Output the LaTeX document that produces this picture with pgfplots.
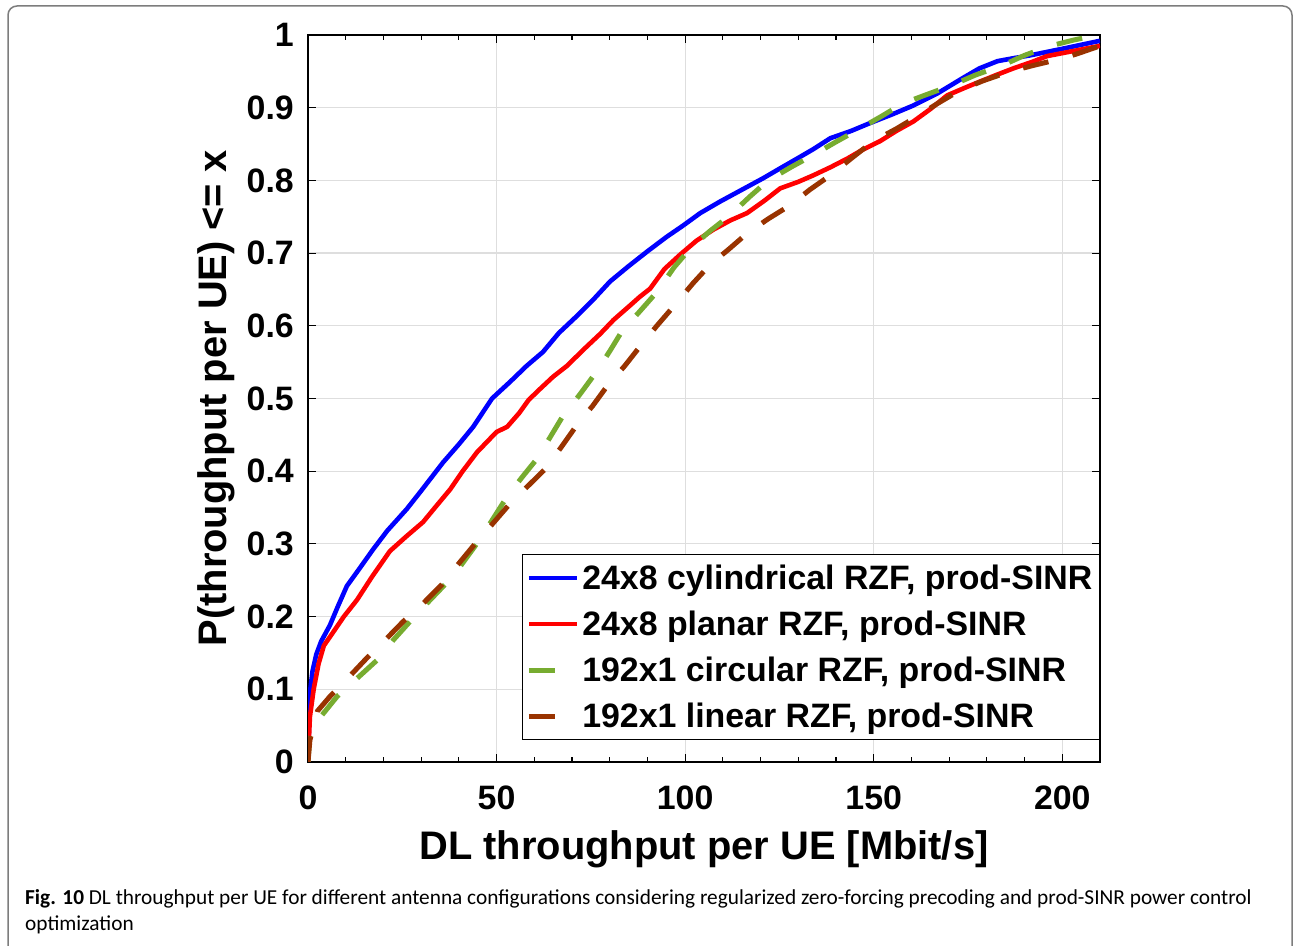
\documentclass[border=0pt]{standalone}
\usepackage{fontspec}
\setmainfont{Liberation Sans}
\newfontfamily\capfont{Carlito}
\usepackage{pgfplots}
\pgfplotsset{compat=1.18}
\definecolor{mgreen}{RGB}{119,172,48}
\definecolor{mbrown}{RGB}{153,51,0}
\definecolor{bordergray}{RGB}{125,125,125}
\definecolor{gridgray}{RGB}{222,222,222}

\begin{document}
\begin{tikzpicture}[x=1bp,y=1bp]
\useasboundingbox (0,0) rectangle (1294,946);
\begin{scope}
\clip (0,0) rectangle (1294,946);
\draw[bordergray, line width=1.5bp, rounded corners=9bp] (8,-30) rectangle (1292,940);
\end{scope}
\begin{axis}[
  at={(308bp,184bp)}, anchor=south west,
  scale only axis, width=792bp, height=727bp,
  xmin=0, xmax=210, ymin=0, ymax=1,
  xtick={0,50,100,150,200},
  minor x tick num=4,
  ytick={0,0.1,0.2,0.3,0.4,0.5,0.6,0.7,0.8,0.9,1},
  yticklabels={0,0.1,0.2,0.3,0.4,0.5,0.6,0.7,0.8,0.9,1},
  xmajorgrids, ymajorgrids,
  major grid style={gridgray, line width=1.2bp},
  axis line style={black, line width=1.3bp},
  every tick/.style={black, line width=1.1bp},
  major tick length=8bp, minor tick length=5bp,
  tick align=inside,
  /pgf/number format/assume math mode=true,
  tick label style={font=\fontsize{34}{40}\selectfont\bfseries},
  xticklabel style={inner sep=0pt, anchor=north, yshift=-24bp},
  yticklabel style={inner sep=0pt, anchor=east, xshift=-14bp},
  xlabel={DL throughput per UE [Mbit/s]},
  ylabel={P(throughput per UE) <= x},
  label style={font=\fontsize{40}{46}\selectfont\bfseries},
  xlabel style={at={(axis description cs:0.5,-0.1348)}, anchor=base, inner sep=0pt},
  ylabel style={at={(axis description cs:-0.1035,0.5)}, anchor=base, inner sep=0pt, rotate=0},
  legend style={at={(1,0.286)}, anchor=north east, draw=black, line width=1.2bp,
    font=\fontsize{34}{40}\selectfont\bfseries, fill=white,
    inner xsep=4bp, inner ysep=4bp, row sep=7bp,
    nodes={text height=28bp, text depth=5bp, inner sep=3bp}},
  legend cell align=left,
  legend image code/.code={\draw[#1] (0bp,0bp) -- (48bp,0bp);},
]
\addplot[blue, line width=4.6bp] coordinates {
(0,0) (0.2,0.04) (0.5,0.095) (1.2,0.125) (2.2,0.148) (3.5,0.166) (5.8,0.188) (8,0.215) (10.3,0.242)
(13.5,0.265) (17.2,0.292) (21,0.318) (26.2,0.348) (30,0.373) (35.8,0.412) (40,0.437)
(43.8,0.461) (48.8,0.5) (53.6,0.523) (58,0.545) (62.3,0.564) (66.5,0.59) (71.4,0.614)
(76,0.638) (80.1,0.661) (85,0.682) (89.9,0.702) (95,0.722) (99.5,0.738) (104,0.755)
(109.3,0.771) (115,0.787) (120.7,0.803) (125,0.816) (129.7,0.830) (134,0.843)
(138.5,0.858) (144,0.868) (149.1,0.879) (155,0.891) (160.5,0.903) (167,0.92)
(173.7,0.941) (178,0.954) (182.8,0.964) (187,0.968) (191.5,0.972) (200,0.981) (210,0.992)
};
\addlegendentry{24x8 cylindrical RZF, prod-SINR}
\addplot[red, line width=4.6bp] coordinates {
(0,0) (0.5,0.062) (1.5,0.1) (2.8,0.135) (4.2,0.16) (6.6,0.178) (9.5,0.2) (13,0.223)
(17,0.255) (21.7,0.29) (26,0.31) (30.5,0.330) (34,0.352) (37.7,0.375) (41,0.40)
(44.8,0.426) (50,0.454) (52.8,0.461) (56,0.48) (58.5,0.498) (61.5,0.513) (65,0.53)
(68.7,0.545) (73,0.567) (77.5,0.589) (81,0.608) (85.4,0.628) (88,0.64) (90.7,0.651)
(94.5,0.678) (98.7,0.698) (103,0.717) (107.4,0.732) (112,0.745) (116.4,0.755)
(121,0.772) (125.2,0.789) (130,0.798) (134,0.807) (138.5,0.818) (143,0.830)
(147,0.842) (151.7,0.854) (156,0.868) (160.5,0.881) (165,0.898) (169.5,0.917)
(174,0.927) (178.2,0.936) (183,0.946) (187,0.954) (192,0.963) (196,0.971)
(203,0.978) (210,0.985)
};
\addlegendentry{24x8 planar RZF, prod-SINR}
\addplot[mgreen, line width=5bp, dash pattern=on 26bp off 25bp] coordinates {
(0,0) (0.5,0.04) (3,0.06) (7.7,0.09) (13,0.115) (18.3,0.14) (22.5,0.167) (27,0.193)
(31.5,0.218) (36.3,0.244) (40.5,0.27) (44.3,0.297) (48.5,0.33) (52.3,0.361)
(56.5,0.39) (60.7,0.417) (64,0.445) (67.6,0.476) (72,0.505) (76.1,0.534) (80,0.565)
(83.3,0.593) (88,0.62) (92.6,0.647) (97,0.68) (101.3,0.706) (106.5,0.73)
(111.9,0.752) (117,0.777) (121.8,0.799) (128,0.818) (134,0.835) (140,0.853)
(145.6,0.869) (152,0.888) (157.8,0.906) (164,0.918) (170.8,0.931) (177,0.945)
(183.6,0.957) (190,0.972) (196.8,0.985) (203,0.993) (209.3,1.0)
};
\addlegendentry{192x1 circular RZF, prod-SINR}
\addplot[mbrown, line width=5bp, dash pattern=on 26bp off 25bp] coordinates {
(0,0) (0.5,0.03) (2.5,0.07) (5.8,0.09) (10.5,0.115) (15.6,0.143) (20.5,0.168)
(25.2,0.193) (30.5,0.218) (35.5,0.244) (39.5,0.27) (43.8,0.297) (48.5,0.325)
(53,0.352) (58,0.378) (62.9,0.403) (67,0.432) (71.5,0.465) (75.5,0.49) (79.3,0.517)
(84,0.545) (88.1,0.572) (92.5,0.6) (97.5,0.63) (102,0.658) (106.6,0.684)
(111.5,0.705) (116.4,0.727) (122,0.747) (127.9,0.766) (133,0.787) (138.5,0.807)
(144,0.83) (149.9,0.854) (156,0.871) (161.5,0.888) (167,0.906) (172.9,0.924)
(179,0.937) (186.2,0.950) (193,0.959) (200.3,0.968) (205,0.976) (210,0.985)
};
\addlegendentry{192x1 linear RZF, prod-SINR}
\end{axis}
\node[anchor=base west, inner sep=0pt, font=\capfont\fontsize{21.4}{26}\selectfont] at (25,41)
  {\textbf{Fig. 10} DL throughput per UE for different antenna configurations considering regularized zero-forcing precoding and prod-SINR power control};
\node[anchor=base west, inner sep=0pt, font=\capfont\fontsize{21.4}{26}\selectfont] at (25,15)
  {optimization};
\end{tikzpicture}
\end{document}
